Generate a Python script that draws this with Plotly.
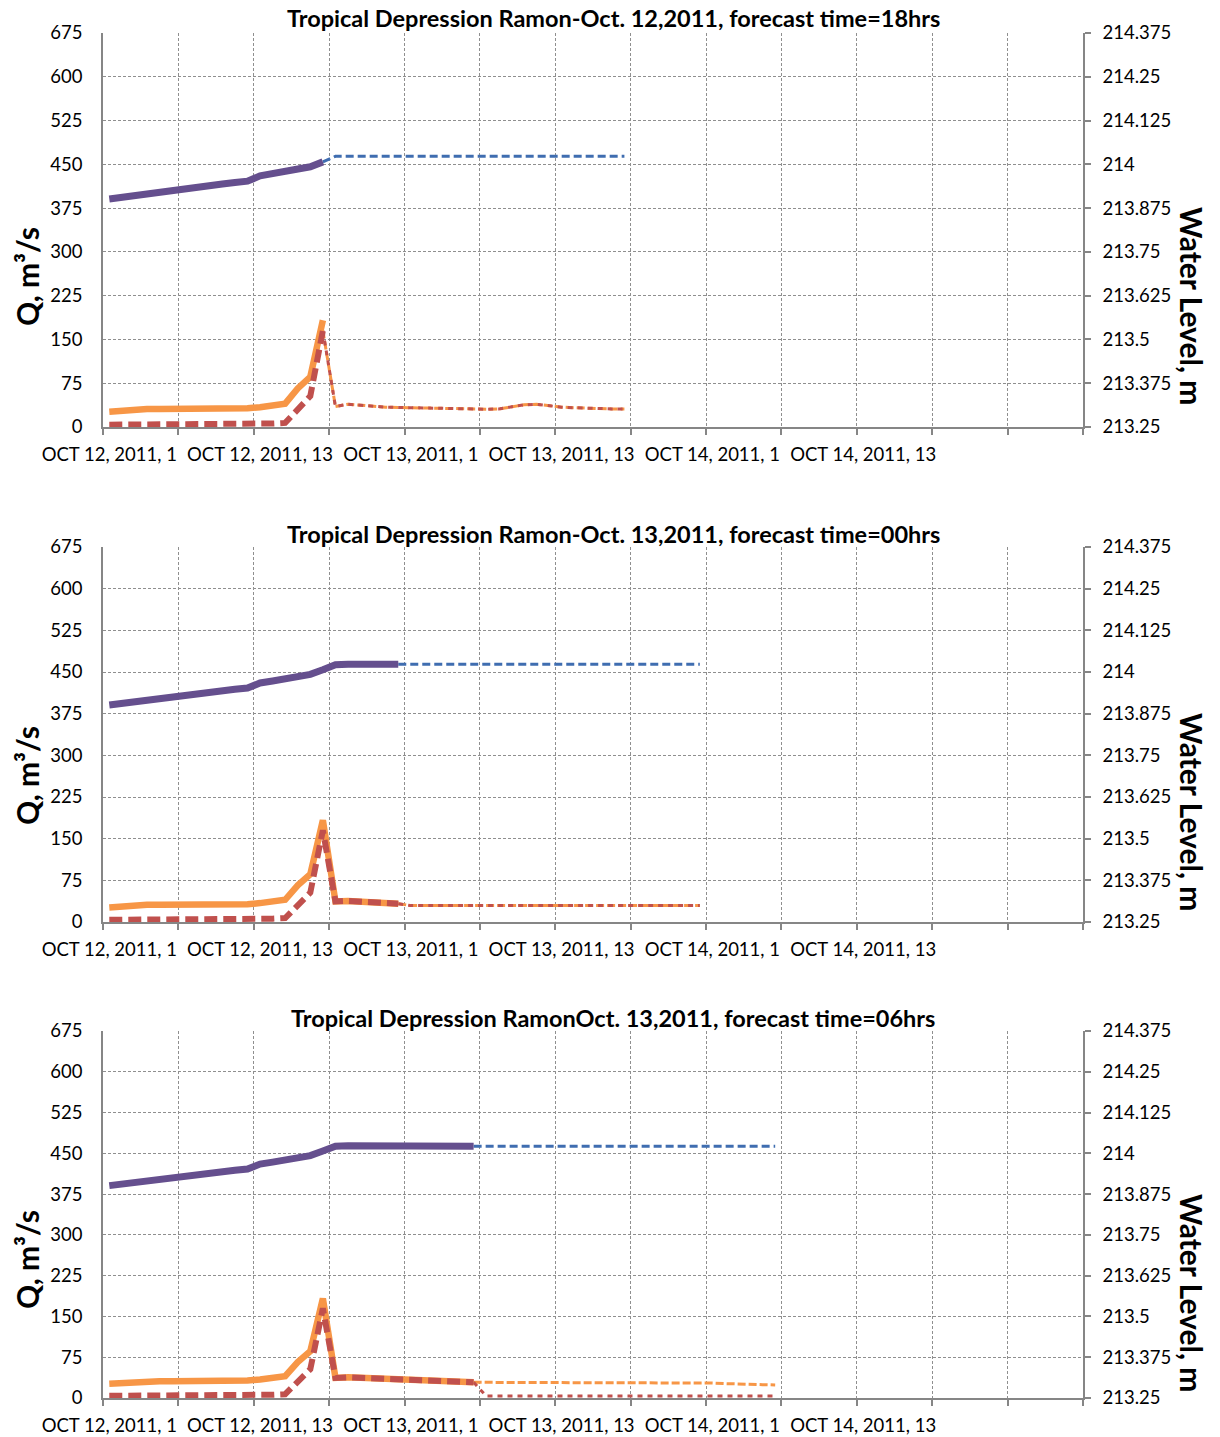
import plotly.graph_objects as go

# ---- axis labels ----
x_tick_hours = [0, 12, 24, 36, 48, 60]
x_tick_labels = ["OCT 12, 2011, 1", "OCT 12, 2011, 13", "OCT 13, 2011, 1",
                 "OCT 13, 2011, 13", "OCT 14, 2011, 1", "OCT 14, 2011, 13"]
q_ticks = [0, 75, 150, 225, 300, 375, 450, 525, 600, 675]
wl_ticks = [213.25, 213.375, 213.5, 213.625, 213.75, 213.875, 214.0, 214.125, 214.25, 214.375]
wl_tick_labels = ["213.25", "213.375", "213.5", "213.625", "213.75", "213.875",
                  "214", "214.125", "214.25", "214.375"]

# ---- observed hourly record, hour index 0 = OCT 12, 2011, 1 ----
wl_observed = [213.901, 213.906, 213.910, 213.915, 213.919, 213.924, 213.933, 213.937,
               213.940, 213.944, 213.948, 213.952, 213.967, 213.973, 213.980, 213.986,
               213.993, 214.007, 214.022, 214.023, 214.023, 214.023, 214.023, 214.023,
               214.022, 214.022, 214.022, 214.022, 214.022, 214.022]
q_observed = [26, 28, 30, 31, 31, 31, 31, 31, 31, 31, 31, 32, 34, 36, 40, 66, 86, 183,
              37, 38, 37, 35, 34, 33, 32, 31, 30, 30, 29, 29]
q_simulated = [4, 4, 5, 5, 5, 5, 5, 5, 6, 6, 6, 6, 6, 6, 7, 30, 53, 165,
               37, 38, 37, 35, 34, 33, 32, 31, 30, 30, 29, 29]

# ---- forecasts issued at 18hrs (Oct 12), 00hrs and 06hrs (Oct 13) ----
fc_start = [17, 23, 29]
wl_fc_18 = [214.007] + [214.023] * 24
q_fc_18_a = [165, 35, 39, 37, 35, 34, 33.5, 33, 32, 31.5, 31, 31, 31, 30.5, 31, 34,
             38, 39, 36, 34, 33, 32, 31.5, 31, 31]
q_fc_18_b = [165, 35, 39, 37, 35, 34, 33.5, 33, 32, 31.5, 31, 31, 31, 30.5, 31, 34,
             38, 39, 36, 34, 33, 32, 31.5, 31, 31]
wl_fc_00 = [214.023] * 25
q_fc_00_a = [33] + [29.5] * 24
q_fc_00_b = [33] + [29.5] * 24
wl_fc_06 = [214.022] * 25
q_fc_06_a = [29] + [28.5] * 18 + [27.5, 26.5, 25.5, 25, 24.5, 24]
q_fc_06_b = [29] + [3.5] * 24

titles = ["Tropical Depression Ramon-Oct. 12,2011, forecast time=18hrs",
          "Tropical Depression Ramon-Oct. 13,2011, forecast time=00hrs",
          "Tropical Depression RamonOct. 13,2011, forecast time=06hrs"]

panels = [
    (wl_fc_18, q_fc_18_a, q_fc_18_b),
    (wl_fc_00, q_fc_00_a, q_fc_00_b),
    (wl_fc_06, q_fc_06_a, q_fc_06_b),
]

# ---- styling ----
W, H = 1220, 1437
FONT = "Lato"
AXIS = "#868686"
GRID = "#8f8f8f"
PURPLE = "#654F8E"
BLUE = "#3F6DB0"
ORANGE = "#F79646"
RED = "#C0504D"

# pixel rows of each plot area (top, bottom)
plot_rows = [(33, 427), (547, 922), (1031, 1398)]
title_rows = [18, 534, 1018]
q_title_rows = [277, 776, 1260]
wl_title_rows = [306, 812, 1293]


def py(row):
    return 1 - row / H


fig = go.Figure()
layout = dict(
    width=W, height=H,
    margin=dict(l=103, r=137, t=0, b=0, autoexpand=False),
    paper_bgcolor="white", plot_bgcolor="white",
    showlegend=False,
    font=dict(family=FONT, size=18, color="#000000"),
)
annotations = []

for i, (wl_fc, qa, qb) in enumerate(panels):
    n = i + 1
    xa = "x" if n == 1 else f"x{n}"
    yq = f"y{2 * n - 1}" if n > 1 else "y"
    yw = f"y{2 * n}"
    xkey = "xaxis" if n == 1 else f"xaxis{n}"
    yqkey = "yaxis" if n == 1 else f"yaxis{2 * n - 1}"
    ywkey = f"yaxis{2 * n}"

    s = fc_start[i]
    obs_x = list(range(0, s + 1))
    fc_x = list(range(s, s + len(wl_fc)))

    # forecasts (thin dashed)
    fig.add_trace(go.Scatter(x=fc_x, y=wl_fc, xaxis=xa, yaxis=yw, mode="lines",
                             name="Forecast water level",
                             line=dict(color=BLUE, width=3, dash="8px,4px")))
    fig.add_trace(go.Scatter(x=fc_x, y=qa, xaxis=xa, yaxis=yq, mode="lines",
                             name="Forecast discharge",
                             line=dict(color=ORANGE, width=3, dash="8px,3px")))
    fig.add_trace(go.Scatter(x=fc_x, y=qb, xaxis=xa, yaxis=yq, mode="lines",
                             name="Forecast simulated discharge",
                             line=dict(color=RED, width=3, dash="5px,5px")))
    # observed (thick)
    fig.add_trace(go.Scatter(x=obs_x, y=wl_observed[:s + 1], xaxis=xa, yaxis=yw,
                             mode="lines", name="Observed water level",
                             line=dict(color=PURPLE, width=7)))
    fig.add_trace(go.Scatter(x=obs_x, y=q_observed[:s + 1], xaxis=xa, yaxis=yq,
                             mode="lines", name="Observed discharge",
                             line=dict(color=ORANGE, width=6.5)))
    fig.add_trace(go.Scatter(x=obs_x, y=q_simulated[:s + 1], xaxis=xa, yaxis=yq,
                             mode="lines", name="Simulated discharge",
                             line=dict(color=RED, width=6, dash="13px,6px")))

    top, bot = plot_rows[i]
    dom = [py(bot), py(top)]

    layout[xkey] = dict(
        domain=[0, 1], anchor=yq, range=[-0.5, 77.5], automargin=False,
        tickmode="array", tickvals=x_tick_hours, ticktext=x_tick_labels,
        ticks="", showgrid=False, zeroline=False,
        showline=True, linecolor=AXIS, linewidth=1.5,
        ticklabelstandoff=10,
        tickfont=dict(family=FONT, size=18.5, color="#000000"),
        minor=dict(tickmode="linear", tick0=-0.5, dtick=6, ticks="outside",
                   ticklen=6, tickcolor=AXIS, tickwidth=1.5,
                   showgrid=True, gridcolor=GRID, gridwidth=1, griddash="3px,2px"),
    )
    layout[yqkey] = dict(
        domain=dom, anchor=xa, range=[0, 675], automargin=False,
        tickmode="array", tickvals=q_ticks, ticks="",
        showgrid=True, gridcolor=GRID, gridwidth=1, griddash="3px,2px",
        zeroline=False, showline=True, linecolor=AXIS, linewidth=1.5,
        ticklabelstandoff=15,
        tickfont=dict(family=FONT, size=18.5, color="#000000"),
    )
    layout[ywkey] = dict(
        domain=dom, anchor=xa, overlaying=yq, side="right", automargin=False,
        range=[213.25, 214.375],
        tickmode="array", tickvals=wl_ticks, ticktext=wl_tick_labels,
        ticks="outside", ticklen=6, tickcolor=AXIS, tickwidth=1.5,
        showgrid=False, zeroline=False, showline=True, linecolor=AXIS, linewidth=1.5,
        ticklabelstandoff=8,
        tickfont=dict(family=FONT, size=18.5, color="#000000"),
    )

    annotations.append(dict(text=f"<b>{titles[i]}</b>", xref="paper", yref="paper",
                            x=(613 - 103) / 980, y=py(title_rows[i]),
                            xanchor="center", yanchor="middle", showarrow=False,
                            font=dict(family=FONT, size=23.5, color="#000000")))
    annotations.append(dict(text="<b>Q, m³/s</b>", xref="paper", yref="paper",
                            x=(27 - 103) / 980, y=py(q_title_rows[i]),
                            xanchor="center", yanchor="middle", showarrow=False,
                            textangle=-90,
                            font=dict(family=FONT, size=30, color="#000000")))
    annotations.append(dict(text="<b>Water Level, m</b>", xref="paper", yref="paper",
                            x=(1192 - 103) / 980, y=py(wl_title_rows[i]),
                            xanchor="center", yanchor="middle", showarrow=False,
                            textangle=90,
                            font=dict(family=FONT, size=30, color="#000000")))

layout["annotations"] = annotations
fig.update_layout(**layout)
fig.write_html("out.html")
